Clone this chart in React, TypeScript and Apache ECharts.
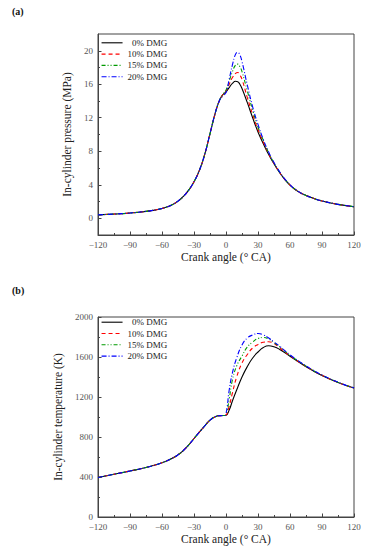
import React, { useEffect, useRef } from "react";
import * as echarts from "echarts";

// ---------- data ----------
const seriesNames = ["\u20070% DMG", "10% DMG", "15% DMG", "20% DMG"];
const xTicks = [-120, -90, -60, -30, 0, 30, 60, 90, 120];
const pressureTicks = [0, 4, 8, 12, 16, 20];
const pressureMinorTicks = [2, 6, 10, 14, 18];
const temperatureTicks = [0, 400, 800, 1200, 1600, 2000];

const pressureAngles = [-120, -105, -90, -75, -70, -65, -60, -55, -50, -45, -40, -35, -30, -25, -20, -15, -10, -6, -3, 0, 3, 6, 9, 11, 13, 15, 20, 25, 30, 35, 40, 45, 50, 55, 60, 65, 70, 75, 80, 90, 105, 120];
const pressure0 = [0.4, 0.5, 0.62, 0.82, 0.91, 1.02, 1.17, 1.37, 1.65, 2.05, 2.6, 3.35, 4.35, 5.7, 7.6, 10.1, 12.6, 14.1, 14.75, 15.1, 15.6, 16.1, 16.35, 16.3, 16.0, 15.5, 13.8, 12.0, 10.3, 8.9, 7.6, 6.5, 5.5, 4.65, 3.95, 3.42, 3.02, 2.72, 2.47, 2.07, 1.66, 1.38];
const pressure10 = [0.4, 0.5, 0.62, 0.82, 0.91, 1.02, 1.17, 1.37, 1.65, 2.05, 2.6, 3.35, 4.35, 5.7, 7.6, 10.1, 12.6, 14.1, 14.75, 15.2, 16.0, 16.8, 17.3, 17.4, 17.1, 16.6, 14.4, 12.4, 10.6, 9.1, 7.7, 6.55, 5.52, 4.66, 3.96, 3.43, 3.02, 2.72, 2.47, 2.07, 1.66, 1.38];
const pressure15 = [0.4, 0.5, 0.62, 0.82, 0.91, 1.02, 1.17, 1.37, 1.65, 2.05, 2.6, 3.35, 4.35, 5.7, 7.6, 10.1, 12.6, 14.1, 14.75, 15.3, 16.4, 17.5, 18.3, 18.4, 18.1, 17.5, 15.2, 12.9, 10.9, 9.3, 7.8, 6.6, 5.55, 4.68, 3.97, 3.43, 3.03, 2.72, 2.47, 2.07, 1.66, 1.38];
const pressure20 = [0.4, 0.5, 0.62, 0.82, 0.91, 1.02, 1.17, 1.37, 1.65, 2.05, 2.6, 3.35, 4.35, 5.7, 7.6, 10.1, 12.6, 14.1, 14.6, 15.0, 16.6, 18.3, 19.6, 19.8, 19.5, 18.7, 15.9, 13.3, 11.2, 9.4, 7.9, 6.65, 5.6, 4.7, 3.98, 3.44, 3.03, 2.72, 2.47, 2.07, 1.66, 1.38];

const temperatureAngles = [-120, -105, -90, -75, -60, -50, -45, -40, -35, -30, -25, -20, -15, -10, -5, -2, 0, 3, 6, 10, 15, 20, 25, 30, 35, 40, 45, 50, 60, 70, 80, 90, 105, 120];
const temperature0 = [395, 428, 460, 495, 542, 590, 622, 665, 720, 785, 848, 910, 968, 1003, 1014, 1015, 1018, 1070, 1160, 1270, 1400, 1505, 1590, 1650, 1695, 1712, 1702, 1678, 1608, 1537, 1472, 1415, 1345, 1290];
const temperature10 = [395, 428, 460, 495, 542, 590, 622, 665, 720, 785, 848, 910, 968, 1003, 1014, 1015, 1020, 1110, 1240, 1400, 1540, 1625, 1690, 1725, 1748, 1752, 1735, 1695, 1612, 1540, 1474, 1417, 1346, 1290];
const temperature15 = [395, 428, 460, 495, 542, 590, 622, 665, 720, 785, 848, 910, 968, 1003, 1014, 1015, 1025, 1180, 1370, 1510, 1610, 1700, 1750, 1785, 1795, 1780, 1745, 1705, 1617, 1543, 1476, 1418, 1347, 1290];
const temperature20 = [395, 428, 460, 495, 542, 590, 622, 665, 720, 785, 848, 910, 968, 1003, 1014, 1012, 1035, 1270, 1440, 1590, 1720, 1790, 1820, 1835, 1822, 1790, 1750, 1710, 1622, 1546, 1478, 1420, 1348, 1290];

// ---------- styles ----------
const colors = ["#000000", "#ff0000", "#009a00", "#0000ff"];
const dashes: any[] = ["solid", [4, 3], [4, 2, 1, 2, 1, 2], [5, 2, 1, 2]];
const FONT = "'Liberation Serif', 'Times New Roman', serif";
const AXIS_COLOR = "#444";
const LABEL_COLOR = "#555";

const fmt = (v: number) => String(v).replace("-", "\u2212");

function pairs(xs: number[], ys: number[]) {
  return xs.map((x, i) => [x, ys[i]]);
}

export default function App() {
  const ref = useRef<HTMLDivElement>(null);
  useEffect(() => {
    if (!ref.current) return;
    const chart = echarts.init(ref.current, null, { renderer: "svg" });

    const gridLeft = 98;
    const gridWidth = 256;
    const grids = [
      { left: gridLeft, top: 34, width: gridWidth, height: 201 },
      { left: gridLeft, top: 317, width: gridWidth, height: 200 },
    ].map((g) => ({ ...g, show: true, borderColor: AXIS_COLOR, borderWidth: 1, backgroundColor: "transparent", containLabel: false }));

    const makeX = (gridIndex: number) => ({
      type: "value",
      gridIndex,
      min: -120,
      max: 120,
      interval: 30,
      name: "Crank angle (\u00B0 CA)",
      nameLocation: "middle",
      nameGap: 16,
      nameTextStyle: { fontFamily: FONT, fontSize: 11.5, color: "#222" },
      axisLine: { show: true, onZero: false, lineStyle: { color: AXIS_COLOR, width: 1 } },
      axisTick: { show: true, inside: true, length: 3.5, lineStyle: { color: AXIS_COLOR } },
      minorTick: { show: true, splitNumber: 2, length: 2, lineStyle: { color: AXIS_COLOR } },
      axisLabel: { show: true, customValues: xTicks, formatter: fmt, fontFamily: FONT, fontSize: 9, color: LABEL_COLOR, margin: 5 },
      splitLine: { show: false },
      minorSplitLine: { show: false },
    });

    const yCommon = {
      type: "value",
      position: "left",
      nameLocation: "middle",
      nameGap: 14,
      nameTextStyle: { fontFamily: FONT, fontSize: 11.5, color: "#222" },
      axisLine: { show: true, onZero: false, lineStyle: { color: AXIS_COLOR, width: 1 } },
      splitLine: { show: false },
    };

    const yAxes = [
      {
        ...yCommon,
        gridIndex: 0,
        min: -2,
        max: 22,
        interval: 2,
        name: "In-cylinder pressure (MPa)",
        axisTick: { show: true, inside: true, length: 3.5, customValues: pressureTicks, lineStyle: { color: AXIS_COLOR } },
        axisLabel: { show: true, customValues: pressureTicks, formatter: fmt, fontFamily: FONT, fontSize: 9, color: LABEL_COLOR, margin: 5 },
      },
      {
        type: "value",
        gridIndex: 0,
        position: "left",
        min: -2,
        max: 22,
        interval: 2,
        axisLine: { show: false, onZero: false },
        axisTick: { show: true, inside: true, length: 2, customValues: pressureMinorTicks, lineStyle: { color: AXIS_COLOR } },
        axisLabel: { show: false },
        splitLine: { show: false },
      },
      {
        ...yCommon,
        gridIndex: 1,
        min: 0,
        max: 2000,
        interval: 400,
        name: "In-cylinder temperature (K)",
        axisTick: { show: true, inside: true, length: 3.5, lineStyle: { color: AXIS_COLOR } },
        minorTick: { show: true, splitNumber: 2, length: 2, lineStyle: { color: AXIS_COLOR } },
        axisLabel: { show: true, customValues: temperatureTicks, formatter: fmt, fontFamily: FONT, fontSize: 9, color: LABEL_COLOR, margin: 5 },
        minorSplitLine: { show: false },
      },
    ];

    const pressureSets = [pressure0, pressure10, pressure15, pressure20];
    const temperatureSets = [temperature0, temperature10, temperature15, temperature20];

    const mk = (name: string, i: number, data: number[][], xi: number, yi: number) => ({
      type: "line",
      name,
      xAxisIndex: xi,
      yAxisIndex: yi,
      data,
      smooth: 0.5,
      showSymbol: false,
      symbol: "none",
      lineStyle: { color: colors[i], width: 1.1, type: dashes[i] },
      itemStyle: { color: colors[i] },
      z: 2 + i,
    });

    const series: any[] = [];
    seriesNames.forEach((n, i) => series.push(mk(n, i, pairs(pressureAngles, pressureSets[i]), 0, 0)));
    seriesNames.forEach((n, i) => series.push(mk(n, i, pairs(temperatureAngles, temperatureSets[i]), 1, 2)));

    const legendBase = {
      orient: "vertical",
      left: 101,
      padding: 0,
      itemWidth: 21,
      itemHeight: 8,
      itemGap: 2.3,
      itemStyle: { opacity: 0 },
      lineStyle: { width: 1.1 },
      textStyle: { fontFamily: FONT, fontSize: 9, color: "#222" },
      data: seriesNames,
      selectedMode: false,
    };

    chart.setOption({
      animation: false,
      backgroundColor: "#fff",
      grid: grids,
      xAxis: [makeX(0), makeX(1)],
      yAxis: yAxes,
      legend: [
        { ...legendBase, top: 38.3 },
        { ...legendBase, top: 317.7 },
      ],
      series,
      graphic: [
        { type: "text", left: 12, top: 6, style: { text: "(a)", font: `bold 10px ${FONT}`, fill: "#111" } },
        { type: "text", left: 12, top: 285, style: { text: "(b)", font: `bold 10px ${FONT}`, fill: "#111" } },
      ],
    });

    return () => chart.dispose();
  }, []);
  return <div ref={ref} style={{ position: "absolute", left: 0, top: 0, width: 366, height: 550 }} />;
}
